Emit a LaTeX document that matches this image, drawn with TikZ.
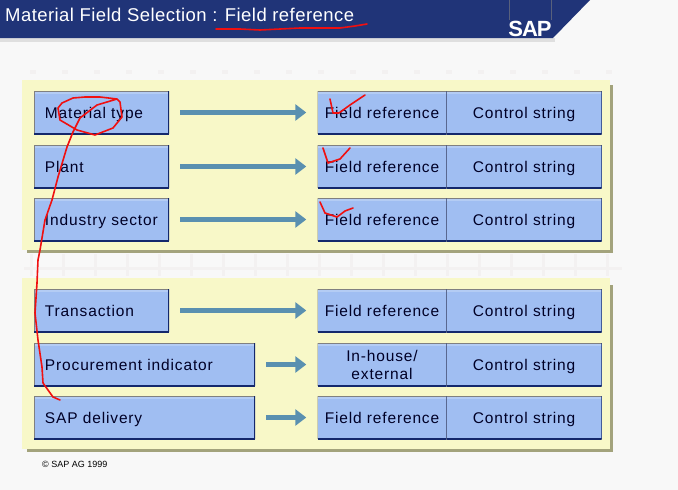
\documentclass[tikz,border=0pt]{standalone}
\usepackage{fontspec}
\setmainfont{Liberation Sans}
\usepackage{tikz}
\usetikzlibrary{arrows.meta}
\definecolor{pagebg}{HTML}{F8F8F8}
\definecolor{panelfill}{HTML}{F8F8C8}
\definecolor{panelshadow}{HTML}{A3A37C}
\definecolor{boxfill}{HTML}{A0BEF2}
\definecolor{boxtop}{HTML}{B4CCF4}
\definecolor{boxline}{HTML}{14286C}
\definecolor{headfill}{HTML}{203478}
\definecolor{arrowblue}{HTML}{5A90B0}
\definecolor{gridmark}{HTML}{F3F1F1}
\definecolor{inkred}{HTML}{F01010}
\tikzset{
	fieldbox/.style={rectangle, fill=boxfill, minimum height=43pt, inner sep=0pt, text height=12pt, text depth=0pt, font=\fontsize{15.5}{18.5}\selectfont\addfontfeature{LetterSpace=5.5}, text=black!85!blue,
		path picture={
			\draw[boxtop, line width=5pt] (path picture bounding box.north west) -- (path picture bounding box.north east);
			\draw[gray, line width=2pt] (path picture bounding box.north west) -- (path picture bounding box.north east);
			\draw[gray, line width=1pt] (path picture bounding box.north west) -- (path picture bounding box.south west);
			\draw[boxline, line width=3pt] (path picture bounding box.south west) -- (path picture bounding box.south east);
			\draw[boxline, line width=2pt] (path picture bounding box.south east) -- (path picture bounding box.north east);
		}},
	leftbox/.style={fieldbox, minimum width=135pt, text width=113pt},
	longbox/.style={fieldbox, minimum width=221pt, text width=199pt},
	refbox/.style={fieldbox, minimum width=129pt},
	ctrlbox/.style={fieldbox, minimum width=155pt},
	flow/.style={color=arrowblue, line width=5pt, shorten <=11pt, shorten >=11pt, -{Triangle[length=11pt,width=16pt]}},
	ink/.style={draw=inkred, line width=1.6pt, line join=round, line cap=round}
}
\begin{document}
\begin{tikzpicture}[x=1pt, y=-1pt]
			\useasboundingbox (0,0) rectangle (678,490);
			\fill[pagebg] (0,0) rectangle (678,490);

			% faint marks behind the panels
			\foreach \xpos in {30,62,94,126,158,190,222,254,286,318,350,382,414,446,478,510,542,574,606}{
				\fill[gridmark] (\xpos,70) rectangle +(6,4);
				\fill[gridmark] (\xpos,254) rectangle +(3,22);
			}
			\fill[gridmark] (24,267) rectangle (622,270);

			% header
			\fill[gray!25] (0,38) rectangle (555,42);
			\fill[headfill] (0,0) -- (590,0) -- (553,38) -- (0,38) -- cycle;
			\draw[gray!60!headfill, thin] (509,0) -- (509,20) (551,0) -- (551,20);
			\node[anchor=west, text=white, inner sep=0pt, font=\fontsize{18.5}{18.5}\selectfont\addfontfeature{LetterSpace=2.4}] (title) at (5,15) {Material Field Selection : Field reference};
			\node[text=white, inner sep=0pt, font=\fontsize{22}{22}\selectfont\bfseries\addfontfeature{LetterSpace=-5}] (logo) at (530,29) {SAP};

			% panels
			\fill[panelshadow] (27,85) rectangle (613,253);
			\fill[panelfill] (22,80) rectangle (610,250);
			\fill[panelshadow] (27,285) rectangle (613,452);
			\fill[panelfill] (22,278) rectangle (610,449);

			% left column
			\node[leftbox] (mat) at (101.5,112.5){Material type};
			\node[leftbox] (plant) at (101.5,166.5){Plant};
			\node[leftbox] (sector) at (101.5,219.5){Industry sector};
			\node[leftbox] (trans) at (101.5,310.5){Transaction};
			\node[longbox] (proc) at (144.5,364.5){Procurement indicator};
			\node[longbox] (deliv) at (144.5,417.5){SAP delivery};

			% middle column
			\node[refbox] (fmat) at (382,112.5){Field reference};
			\node[refbox] (fplant) at (382,166.5){Field reference};
			\node[refbox] (fsector) at (382,219.5){Field reference};
			\node[refbox] (ftrans) at (382,310.5){Field reference};
			\node[refbox, align=center, text height=30pt] (fproc) at (382,364.5){In-house/\\external};
			\node[refbox] (fdeliv) at (382,417.5){Field reference};

			% right column
			\node[ctrlbox] (cmat) at (524,112.5){Control string};
			\node[ctrlbox] (cplant) at (524,166.5){Control string};
			\node[ctrlbox] (csector) at (524,219.5){Control string};
			\node[ctrlbox] (ctrans) at (524,310.5){Control string};
			\node[ctrlbox] (cproc) at (524,364.5){Control string};
			\node[ctrlbox] (cdeliv) at (524,417.5){Control string};

			\path[flow] (mat) edge (fmat);
			\path[flow] (plant) edge (fplant);
			\path[flow] (sector) edge (fsector);
			\path[flow] (trans) edge (ftrans);
			\path[flow] (proc) edge (fproc);
			\path[flow] (deliv) edge (fdeliv);

			% copyright line
			\node[anchor=west, inner sep=0pt, font=\fontsize{9}{9}\selectfont] (copy) at (42,464.5) {© SAP AG 1999};

			% red pen marks
			\draw[ink] (216,29) -- (240,29) -- (260,30) -- (300,28) -- (340,28) -- (355,26) -- (367,24);
			\draw[ink] (117,99) -- (100,97) -- (85,97) -- (73,98) -- (62,103) -- (58,108) -- (60,120) -- (77,130) -- (95,135) -- (113,128) -- (122,117) -- (120,102) -- (117,99) -- (97,105) -- (80,118) -- (73,132) -- (67,147) -- (58,177) -- (52,200) -- (45,220) -- (40,250) -- (38,260) -- (37,283) -- (35,313) -- (38,340) -- (42,367) -- (43,383) -- (53,397) -- (60,400);
			\draw[ink] (330,99) -- (333,113) -- (339,113) -- (350,105) -- (365,95);
			\draw[ink] (323,148) -- (328,163) -- (340,159) -- (350,148);
			\draw[ink] (320,202) -- (325,213) -- (337,217) -- (345,211) -- (353,208);
			\end{tikzpicture}
\end{document}
